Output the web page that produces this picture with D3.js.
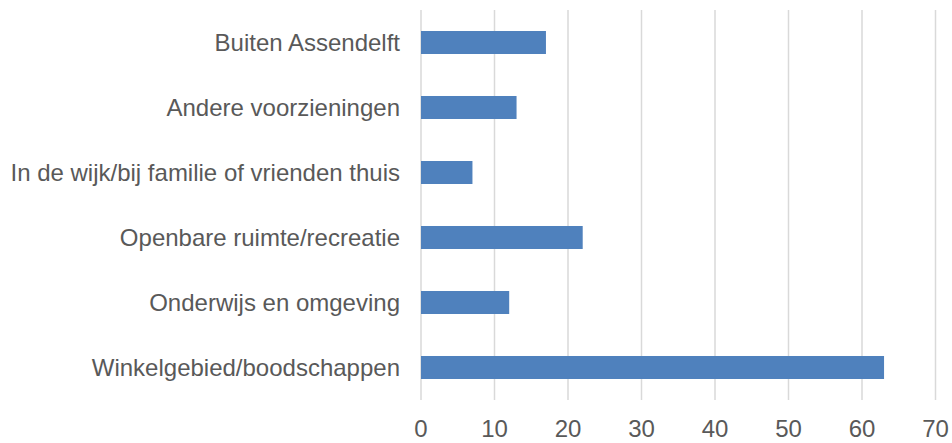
<!doctype html>
<html>
<head>
  <script src="https://cdnjs.cloudflare.com/ajax/libs/d3/7.8.5/d3.min.js"></script>
  <style>
    body { margin: 0; background: #fff; }
    svg { display: block; }
    text { font-family: "Liberation Sans", Arial, sans-serif; fill: #595959; }
  </style>
</head>
<body>
  <svg id="chart" width="952" height="443"></svg>
<script>
  // categories top to bottom, as in the picture
  var categories = [
    "Buiten Assendelft",
    "Andere voorzieningen",
    "In de wijk/bij familie of vrienden thuis",
    "Openbare ruimte/recreatie",
    "Onderwijs en omgeving",
    "Winkelgebied/boodschappen"
  ];
  var values = [17, 13, 7, 22, 12, 63];
  var xTicks = [0, 10, 20, 30, 40, 50, 60, 70];

  var svg = d3.select("#chart");
  var plotLeft = 421, plotRight = 935.5, plotTop = 10, plotBottom = 400;

  var x = d3.scaleLinear().domain([0, 70]).range([plotLeft, plotRight]);
  var y = d3.scaleBand().domain(categories).range([plotTop, plotBottom])
    .paddingInner(0.646).paddingOuter(0.323);

  // gridlines
  svg.append("g").selectAll("line")
    .data(xTicks)
    .enter().append("line")
    .attr("x1", d => x(d)).attr("x2", d => x(d))
    .attr("y1", plotTop).attr("y2", plotBottom)
    .attr("stroke", "#d9d9d9")
    .attr("stroke-width", 1.5);

  // bars
  svg.append("g").selectAll("rect")
    .data(values)
    .enter().append("rect")
    .attr("x", x(0))
    .attr("y", (d, i) => y(categories[i]))
    .attr("width", d => x(d) - x(0))
    .attr("height", y.bandwidth())
    .attr("fill", "#4f81bd");

  // category labels
  svg.append("g").selectAll("text")
    .data(categories)
    .enter().append("text")
    .attr("x", 400)
    .attr("y", d => y(d) + y.bandwidth() / 2)
    .attr("dy", "0.35em")
    .attr("text-anchor", "end")
    .attr("font-size", 24)
    .text(d => d);

  // tick labels
  svg.append("g").selectAll("text")
    .data(xTicks)
    .enter().append("text")
    .attr("x", d => x(d))
    .attr("y", 437)
    .attr("text-anchor", "middle")
    .attr("font-size", 24)
    .text(d => d);
</script>
</body>
</html>
